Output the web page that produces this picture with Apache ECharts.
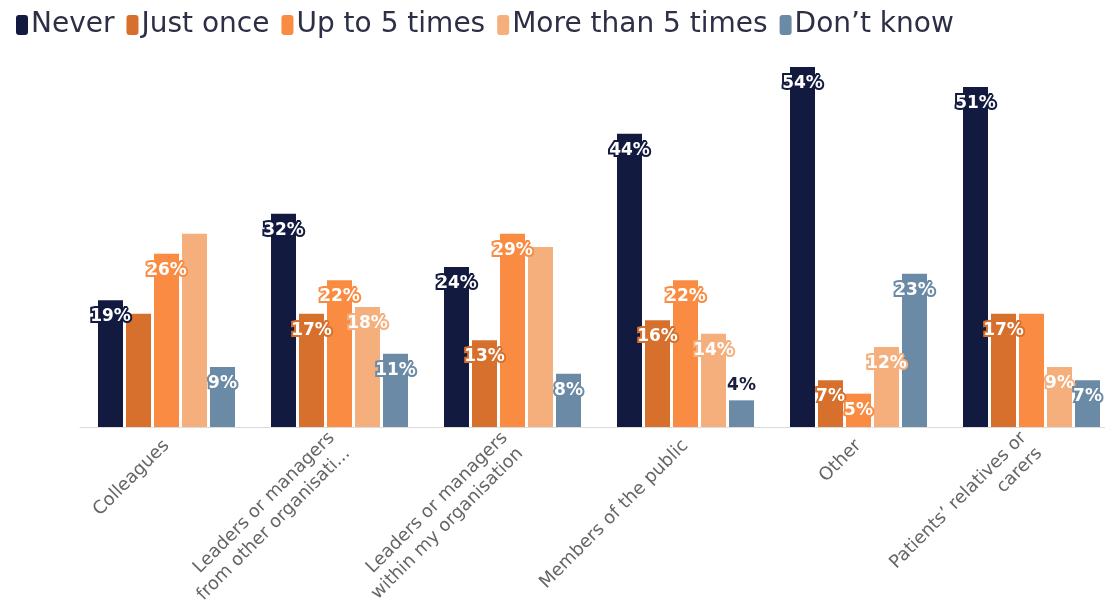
<!DOCTYPE html>
<html>
<head>
<meta charset="utf-8">
<script src="https://cdn.jsdelivr.net/npm/echarts@6/dist/echarts.min.js"></script>
<style>
  html, body { margin: 0; padding: 0; background: #fff; overflow: hidden; }
  /* the original plot runs a little past the right edge of the picture */
  #chart { width: 1118px; height: 614px; }
</style>
</head>
<body>
<div id="chart"></div>
<script>
var categories = [
    'Colleagues',
    'Leaders or managers\nfrom other organisati...',
    'Leaders or managers\nwithin my organisation',
    'Members of the public',
    'Other',
    'Patients\u2019 relatives or\ncarers'
];
var seriesNames = ['Never', 'Just once', 'Up to 5 times', 'More than 5 times', 'Don\u2019t know'];
var never = [19, 32, 24, 44, 54, 51];
var justOnce = [17, 17, 13, 16, 7, 17];
var upTo5 = [26, 22, 29, 22, 5, 17];
var moreThan5 = [29, 18, 27, 14, 12, 9];
var dontKnow = [9, 11, 8, 4, 23, 7];
// labels the original chart leaves out (category indexes per series)
var hiddenLabels = [[], [0], [5], [0, 2], []];

var colors = ['#131a40', '#d6702c', '#f98c42', '#f5af7d', '#6a8aa5'];
var allValues = [never, justOnce, upTo5, moreThan5, dontKnow];

var chartDom = document.getElementById('chart');
var myChart = echarts.init(chartDom);

var series = seriesNames.map(function (name, s) {
    return {
        name: name,
        type: 'bar',
        barWidth: 25,
        barGap: '12%',
        itemStyle: { color: colors[s] },
        label: {
            show: true,
            position: 'insideTop',
            distance: 8,
            formatter: '{c}%',
            color: '#fff',
            fontFamily: 'DejaVu Sans',
            fontWeight: 'bold',
            fontSize: 17,
            textBorderColor: colors[s],
            textBorderWidth: 4
        },
        data: allValues[s].map(function (v, i) {
            var item = { value: v };
            if (hiddenLabels[s].indexOf(i) >= 0) {
                item.label = { show: false };
            } else if (v <= 4) {
                item.label = { position: 'top', distance: 6, color: '#1b1f3b', textBorderWidth: 0, fontSize: 17 };
            }
            return item;
        })
    };
});

var option = {
    animation: false,
    color: colors,
    legend: {
        left: 11,
        top: 6,
        icon: 'roundRect',
        itemWidth: 12,
        itemHeight: 20,
        itemGap: 12,
        textStyle: {
            fontFamily: 'DejaVu Sans',
            fontSize: 28,
            color: '#2c2f45',
            padding: [0, 0, 0, -2]
        },
        data: seriesNames
    },
    grid: {
        left: 80,
        top: 27,
        right: 0,
        height: 400
    },
    xAxis: {
        type: 'category',
        data: categories,
        axisTick: { show: false },
        axisLine: { lineStyle: { color: '#dcdcdc' } },
        axisLabel: {
            rotate: 45,
            margin: 16,
            interval: 0,
            color: '#666',
            fontFamily: 'DejaVu Sans',
            fontSize: 18,
            lineHeight: 22
        }
    },
    yAxis: {
        type: 'value',
        min: 0,
        max: 60,
        show: false
    },
    series: series
};
myChart.setOption(option);
</script>
</body>
</html>
